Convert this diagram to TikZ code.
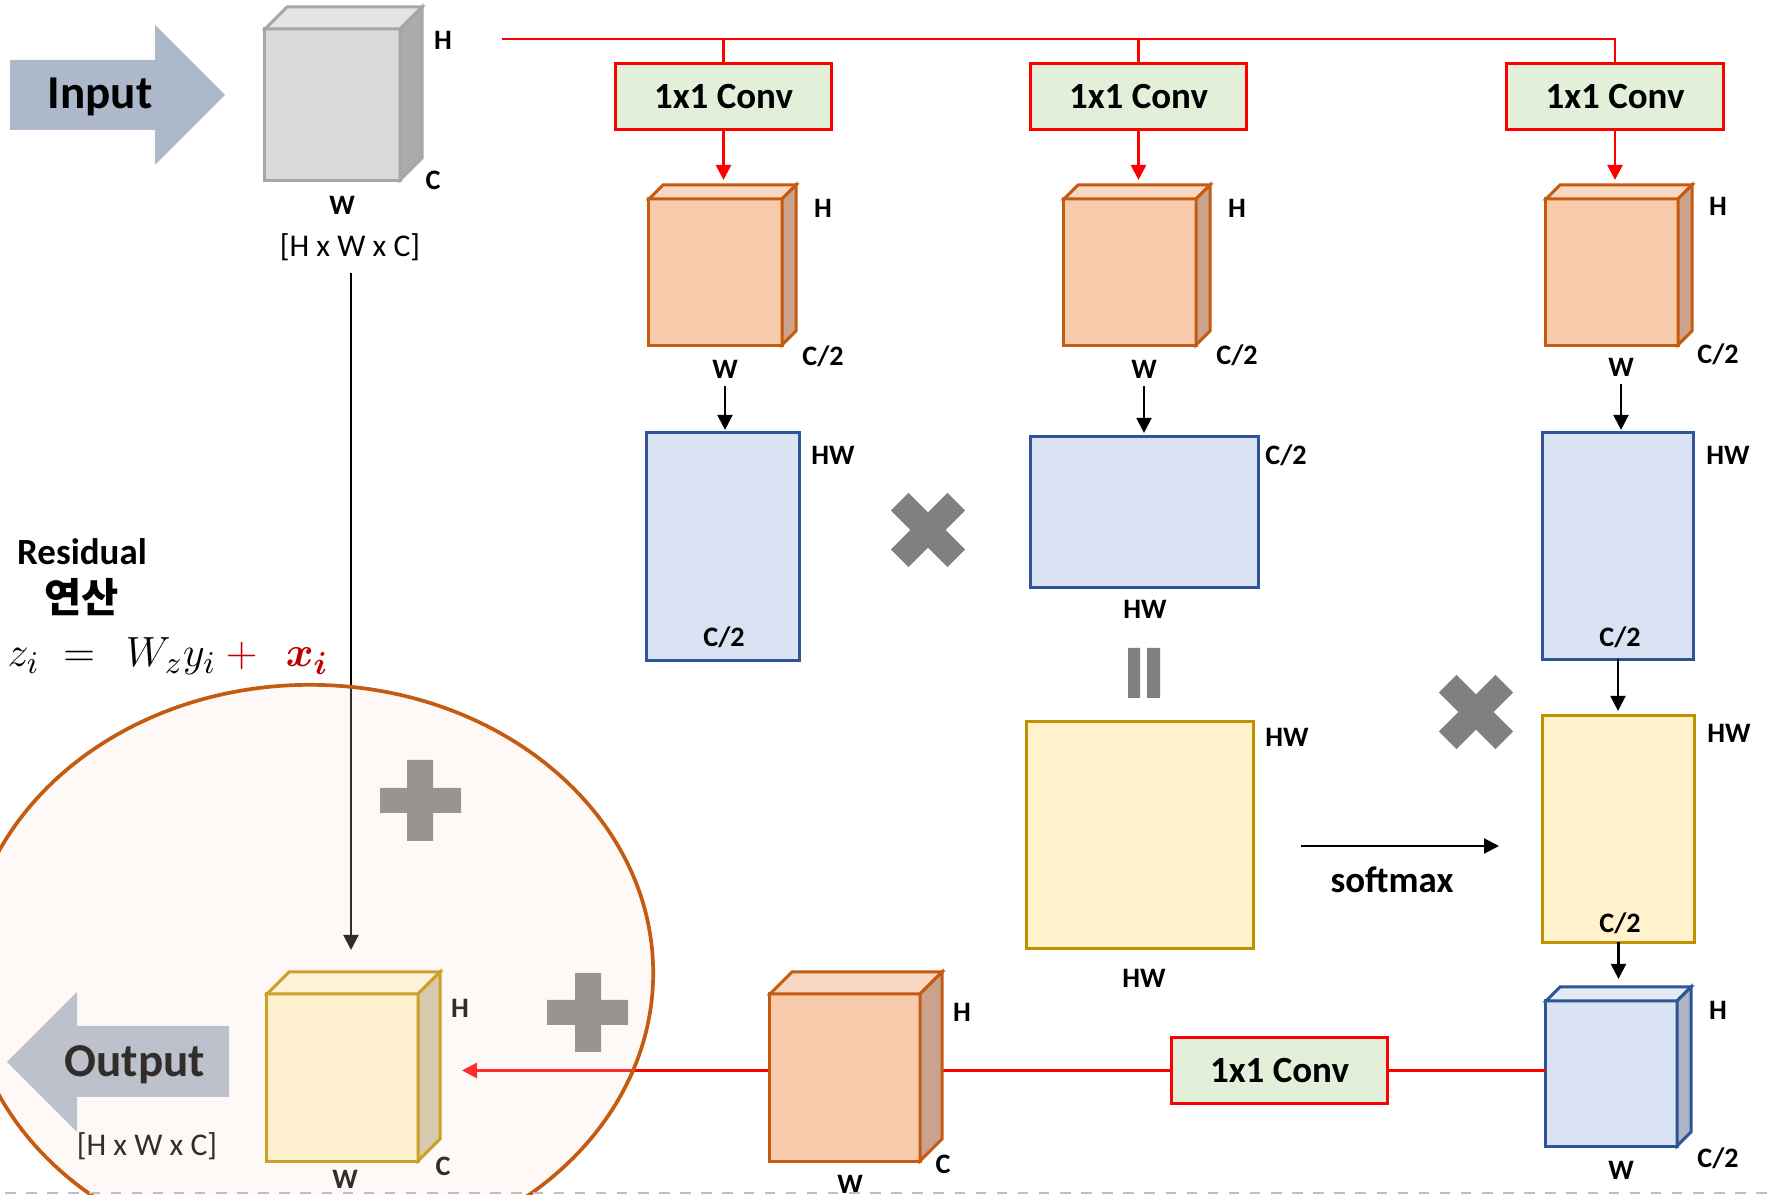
\documentclass[tikz,border=0pt]{standalone}
\usepackage{fontspec}
\setmainfont{Carlito}
\newfontfamily\krfont{Noto Sans CJK KR}
\usepackage{bm}
\usetikzlibrary{arrows.meta,calc}
\definecolor{convgreen}{HTML}{E2F0D9}
\definecolor{bluefill}{HTML}{DAE3F3}
\definecolor{blueedge}{HTML}{2F5597}
\definecolor{bltop}{HTML}{E4EAF6}
\definecolor{blside}{HTML}{ADB5C4}
\definecolor{yelfill}{HTML}{FFF2CC}
\definecolor{yeledge}{HTML}{BF9000}
\definecolor{yeltop}{HTML}{FFF5D9}
\definecolor{yelside}{HTML}{CFC3A5}
\definecolor{orfill}{HTML}{F8CBAD}
\definecolor{ortop}{HTML}{FAD7C0}
\definecolor{orside}{HTML}{C9A38C}
\definecolor{oredge}{HTML}{C55A11}
\definecolor{grfill}{HTML}{D9D9D9}
\definecolor{grtop}{HTML}{E4E4E4}
\definecolor{grside}{HTML}{ABABAB}
\definecolor{gredge}{HTML}{A6A6A6}
\definecolor{inarrow}{HTML}{ADB9CA}
\definecolor{symgray}{HTML}{808080}
\definecolor{eqred}{HTML}{C00000}
\definecolor{ellfill}{HTML}{FBE5D6}
\newcommand{\cubeparts}[5]{%
  \filldraw[fill=#3, draw=#5, cubeedge] (#1.north west) -- ($(#1.north west)+(#2,-#2)$) -- ($(#1.north east)+(#2,-#2)$) -- (#1.north east) -- cycle;
  \filldraw[fill=#4, draw=#5, cubeedge] (#1.north east) -- ($(#1.north east)+(#2,-#2)$) -- ($(#1.south east)+(#2,-#2)$) -- (#1.south east) -- cycle;
}
\newcommand{\xsign}[2]{%
  \fill[symgray, shift={(#1,#2)}, rotate=45] (-40,-12.5) rectangle (40,12.5) (-12.5,-40) rectangle (12.5,40);
}
\begin{document}
\begin{tikzpicture}[x=0.01cm,y=-0.01cm,
  lbl/.style={font=\fontsize{8}{9}\selectfont\bfseries, inner sep=1pt},
  dimtxt/.style={font=\fontsize{9}{10}\selectfont, inner sep=1pt},
  convbox/.style={draw=red, line width=0.85pt, fill=convgreen, minimum width=2.16cm, minimum height=0.65cm, inner sep=0, outer sep=0, font=\fontsize{10.5}{12}\selectfont\bfseries},
  bluebox/.style={draw=blueedge, fill=bluefill, line width=0.85pt, inner sep=0, outer sep=0},
  yelbox/.style={draw=yeledge, fill=yelfill, line width=0.85pt, inner sep=0, outer sep=0},
  cubeface/.style={line width=0.85pt, inner sep=0, outer sep=0},
  cubeedge/.style={line width=0.85pt, line join=miter},
  redline/.style={draw=red, line width=0.8pt},
  redarr/.style={redline, -{Triangle[length=0.15cm,width=0.15cm]}},
  blkarr/.style={draw=black, line width=0.6pt, -{Triangle[length=0.15cm,width=0.15cm]}},
]
\clip (0,0) rectangle (1769,1195);
\fill[white] (0,0) rectangle (1769,1195);

% ---------- input ----------
\fill[inarrow] (10,60) -- (155,60) -- (155,25) -- (225,95) -- (155,165) -- (155,130) -- (10,130) -- cycle;
\node[font=\fontsize{13.4}{15}\selectfont\bfseries] (inputtxt) at (100,97) {Input};
\node[cubeface, draw=gredge, fill=grfill, minimum width=1.35cm, minimum height=1.51cm] (incube) at (332.5,104.5) {};
\cubeparts{incube}{22}{grtop}{grside}{gredge}
\node[lbl] (inH) at (443,40) {H};
\node[lbl] (inC) at (433,180) {C};
\node[lbl] (inW) at (342,205) {W};
\node[dimtxt] (indim) at (350,247) {[H x W x C]};

% ---------- conv boxes ----------
\node[convbox] (conv1) at (723.5,96.5) {1x1 Conv};
\node[convbox] (conv2) at (1138.5,96.5) {1x1 Conv};
\node[convbox] (conv3) at (1615,96.5) {1x1 Conv};
\coordinate (topstart) at (502,39);
\draw[redline] (topstart) -| (conv3.north);
\draw[redline] (conv1.north) -- (conv1.north |- topstart);
\draw[redline] (conv2.north) -- (conv2.north |- topstart);

% ---------- orange cubes ----------
\node[cubeface, draw=oredge, fill=orfill, minimum width=1.33cm, minimum height=1.46cm] (cube1) at (715.5,272) {};
\cubeparts{cube1}{14}{ortop}{orside}{oredge}
\node[cubeface, draw=oredge, fill=orfill, minimum width=1.32cm, minimum height=1.46cm] (cube2) at (1130,272) {};
\cubeparts{cube2}{14}{ortop}{orside}{oredge}
\node[cubeface, draw=oredge, fill=orfill, minimum width=1.32cm, minimum height=1.46cm] (cube3) at (1612,272) {};
\cubeparts{cube3}{14}{ortop}{orside}{oredge}
\draw[redarr, shorten >=0.19cm] (conv1.south) -- (conv1.south |- cube1.north);
\draw[redarr, shorten >=0.19cm] (conv2.south) -- (conv2.south |- cube2.north);
\draw[redarr, shorten >=0.19cm] (conv3.south) -- (conv3.south |- cube3.north);

\node[lbl] (c1H) at (823,208) {H};
\node[lbl] (c1C) at (823,356) {C/2};
\node[lbl] (c1W) at (725,369) {W};
\node[lbl] (c2H) at (1237,208) {H};
\node[lbl] (c2C) at (1237,355) {C/2};
\node[lbl] (c2W) at (1144,369) {W};
\node[lbl] (c3H) at (1718,206) {H};
\node[lbl] (c3C) at (1718,354) {C/2};
\node[lbl] (c3W) at (1621,367) {W};

% ---------- blue matrices ----------
\node[bluebox, minimum width=1.52cm, minimum height=2.27cm] (blue1) at (723,546.5) {};
\node[bluebox, minimum width=2.27cm, minimum height=1.50cm] (blue2) at (1144.5,512) {};
\node[bluebox, minimum width=1.50cm, minimum height=2.26cm] (blue3) at (1618,546) {};
\draw[blkarr, shorten <=1pt, shorten >=0.03cm] (c1W.south) -- (c1W.south |- blue1.north);
\draw[blkarr, shorten <=1pt, shorten >=0.04cm] (c2W.south) -- (c2W.south |- blue2.north);
\draw[blkarr, shorten <=1pt, shorten >=0.03cm] (c3W.south) -- (c3W.south |- blue3.north);
\node[lbl] (b1HW) at (833,455) {HW};
\node[lbl] (b1C) at (724,637) {C/2};
\node[lbl] (b2C) at (1286,455) {C/2};
\node[lbl] (b2HW) at (1145,609) {HW};
\node[lbl] (b3HW) at (1728,455) {HW};
\node[lbl] (b3C) at (1620,637) {C/2};

% ---------- operators ----------
\xsign{928}{530}
\xsign{1476}{712}
\fill[symgray] (1128,648) rectangle (1140,698) (1147,648) rectangle (1160,698);

% ---------- yellow matrices ----------
\node[yelbox, minimum width=2.26cm, minimum height=2.26cm] (yel2) at (1140,835) {};
\node[yelbox, minimum width=1.51cm, minimum height=2.26cm] (yel3) at (1618.5,829) {};
\node[lbl] (y2HWr) at (1287,737) {HW};
\node[lbl] (y2HWb) at (1144,978) {HW};
\node[lbl] (y3HW) at (1729,733) {HW};
\node[lbl] (y3C) at (1620,923) {C/2};
\draw[blkarr, shorten >=0.05cm] (blue3.south) -- (blue3.south |- yel3.north);
\coordinate (sma) at (1301,846);
\coordinate (smb) at (1499,846);
\draw[blkarr] (sma) -- (smb);
\node[font=\fontsize{10.5}{12}\selectfont\bfseries] (softmax) at (1392,880) {softmax};

% ---------- bottom row ----------
\node[convbox] (conv4) at (1279.5,1070.5) {1x1 Conv};
\node[cubeface, draw=blueedge, fill=bluefill, minimum width=1.31cm, minimum height=1.45cm] (bcube) at (1611.5,1073.5) {};
\cubeparts{bcube}{14}{bltop}{blside}{blueedge}
\draw[blkarr, shorten >=0.22cm] (yel3.south) -- (yel3.south |- bcube.north);
\node[lbl] (bcH) at (1718,1010) {H};
\node[lbl] (bcC) at (1718,1158) {C/2};
\node[lbl] (bcW) at (1621,1170) {W};
\coordinate (outtip) at (462,1070.5);
\draw[redline] (conv4.east) -- (bcube.west |- conv4.east);
\draw[redarr] (conv4.west) -- (outtip);
\node[cubeface, draw=oredge, fill=orfill, minimum width=1.50cm, minimum height=1.67cm] (bigcube) at (845,1077.5) {};
\cubeparts{bigcube}{22}{ortop}{orside}{oredge}
\node[lbl] (bgH) at (962,1012) {H};
\node[lbl] (bgC) at (943,1164) {C};
\node[lbl] (bgW) at (850,1184) {W};

% ---------- residual ----------
\node[font=\fontsize{10.5}{12}\selectfont\bfseries] (restxt) at (82,552) {Residual};
\node[font=\fontsize{11.5}{13}\selectfont\krfont\bfseries] (kortxt) at (82,597) {연산};
\node[anchor=base west, inner sep=0, font=\fontsize{13}{15}\selectfont] (formula) at (7,667)
  {$z_i \;=\;\, W_z y_i \mathbin{\color{eqred}+}\;\, {\color{eqred}\bm{x}_{\bm{i}}}$};
\coordinate (vtop) at (351,273);
\coordinate (vbot) at (351,950);
\draw[blkarr] (vtop) -- (vbot);
\fill[symgray] (380,788) rectangle (461,813) (407,760) rectangle (433,841);
\fill[symgray] (547,1000) rectangle (628,1025) (575,973) rectangle (601,1052);

% ---------- output ----------
\fill[inarrow] (7,1062) -- (77,992) -- (77,1026) -- (229,1026) -- (229,1097) -- (77,1097) -- (77,1132) -- cycle;
\node[font=\fontsize{13.4}{15}\selectfont\bfseries] (outtxt) at (135,1065) {Output};
\node[dimtxt] (outdim) at (147,1146) {[H x W x C]};
\node[cubeface, draw=yeledge, fill=yelfill, minimum width=1.51cm, minimum height=1.67cm] (ycube) at (342.5,1077.5) {};
\cubeparts{ycube}{22}{yeltop}{yelside}{yeledge}
\node[lbl] (ycH) at (460,1008) {H};
\node[lbl] (ycC) at (443,1166) {C};
\node[lbl] (ycW) at (345,1179) {W};

% ---------- ellipse overlay ----------
\fill[ellfill, fill opacity=0.2] (310,973) ellipse [x radius=3.43cm, y radius=2.88cm];
\draw[oredge, line width=1.05pt] (310,973) ellipse [x radius=3.43cm, y radius=2.88cm];

\draw[black!25, dashed, line width=0.3pt] (5,1193) -- (1769,1193);
\end{tikzpicture}
\end{document}
